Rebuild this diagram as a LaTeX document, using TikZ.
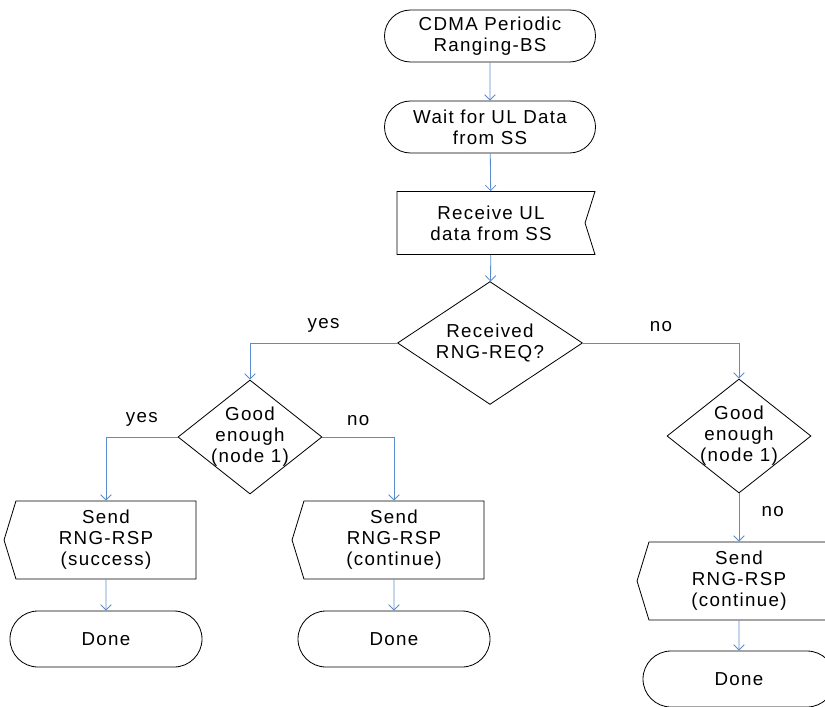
\documentclass[tikz,border=0pt]{standalone}
\usepackage{fontspec}
\setmainfont[LetterSpace=7]{Liberation Sans}
\usetikzlibrary{shapes.geometric,shapes.misc,shapes.symbols,arrows.meta}
\definecolor{linkblue}{RGB}{90,140,205}

\begin{document}
\begin{tikzpicture}[x=0.03cm, y=-0.03cm, line width=0.7pt,
       every node/.style={font=\fontsize{16}{18}\selectfont, align=center, inner sep=0pt},
       terminal/.style={draw, rounded rectangle, minimum width=6.33cm, minimum height=1.56cm},
       recvbox/.style={draw, signal, signal from=east, signal to=nowhere,
             signal pointer angle=145, minimum width=5.94cm, minimum height=1.89cm},
       sendbox/.style={draw, signal, signal to=west, signal from=nowhere,
             signal pointer angle=146, minimum width=5.76cm, minimum height=2.34cm},
       donebox/.style={terminal, minimum width=5.76cm, minimum height=1.68cm},
       decision/.style={draw, diamond, inner sep=-5pt, minimum width=4.32cm, minimum height=3.42cm},
       link/.style={draw=linkblue, -{Straight Barb[length=4.5pt,width=9pt]}}]
\useasboundingbox (0,0) rectangle (825,706);

\node[terminal] (start) at (490,36) {CDMA Periodic\\Ranging-BS};
\node[terminal] (wait) at (490,127) {Wait for UL Data\\from SS};
\node[recvbox] (recv) at (491,223) {Receive UL\\data from SS};
\node[decision, minimum width=5.55cm, minimum height=3.48cm] (gotreq) at (490,343) {Received\\RNG-REQ?};

\node[decision] (goodl) at (250,437) {Good\\enough\\(node 1)};
\node[decision] (goodr) at (739,436) {Good\\enough\\(node 1)};

\node[sendbox] (sendok) at (106,540) {Send\\RNG-RSP\\(success)};
\node[sendbox] (sendcl) at (394,540) {Send\\RNG-RSP\\(continue)};
\node[sendbox] (sendcr) at (739,581) {Send\\RNG-RSP\\(continue)};

\node[donebox] (donel) at (106,639) {Done};
\node[donebox] (donem) at (394,639) {Done};
\node[donebox] (doner) at (739,679) {Done};

\draw[link] (start) -- (wait);
\draw[link] (wait) -- (recv);
\draw[link] (recv) -- (gotreq);
\draw[link] (gotreq.west) -| node[pos=0.25, above=9pt] {yes} (goodl.north);
\draw[link] (gotreq.east) -| node[pos=0.25, above=9pt] {no} (goodr.north);
\draw[link] (goodl.west) -| node[pos=0.25, above=9pt] {yes} (sendok.north);
\draw[link] (goodl.east) -| node[pos=0.25, above=9pt] {no} (sendcl.north);
\draw[link] (goodr.south) -- node[pos=0.37, right=19pt] {no} (sendcr.north);
\draw[link] (sendok) -- (donel);
\draw[link] (sendcl) -- (donem);
\draw[link] (sendcr) -- (doner);
\end{tikzpicture}
\end{document}
